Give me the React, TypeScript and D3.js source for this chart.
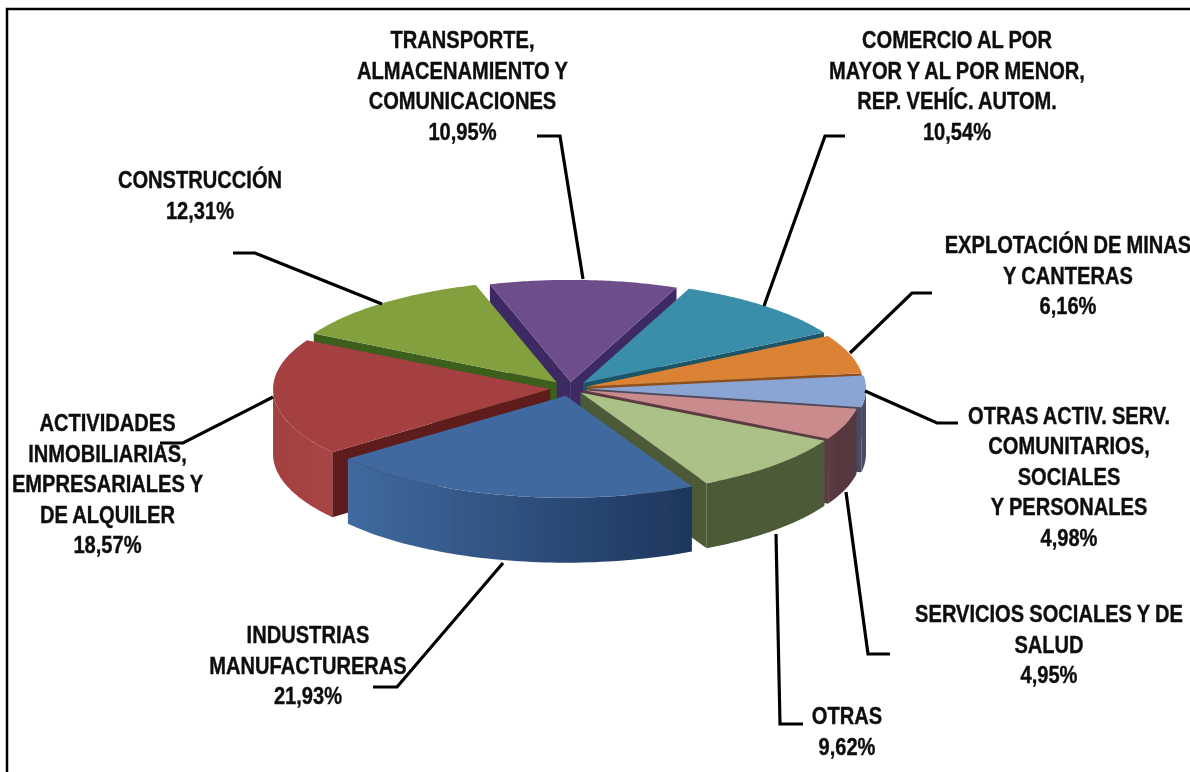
import React from "react";
import * as d3 from "d3";

const sectors = ["TRANSPORTE", "COMERCIO", "EXPLOTACION", "OTRAS_ACTIV", "SERVICIOS", "OTRAS", "INDUSTRIAS", "ACTIVIDADES", "CONSTRUCCION"];
const shares = [10.95, 10.54, 6.16, 4.98, 4.95, 9.62, 21.93, 18.57, 12.31];
const pull = [18, 20, 18, 19, 15, 15, 20, 20, 21];
const topColors = ["#6e4e8b", "#3a8eaa", "#dc8234", "#8aa4d3", "#c98b8b", "#aac187", "#41699f", "#a43f40", "#82a03e"];
const sideColors = ["#3d2a62", "#1d5666", "#8e4f1e", "#4b4a62", "#5c3a40", "#4e5a38", "#1e3a60", "#5f1c1c", "#3e5e1c"];
const rimStart = ["#5a4078", "#2d7286", "#a8622a", "#4b4a62", "#5c3a40", "#4e5a38", "#3f6a9f", "#a34040", "#3e5e1c"];
const rimEnd = ["#5a4078", "#2d7286", "#a8622a", "#4b4d66", "#52373f", "#4e5a38", "#1e365c", "#a84545", "#3e5e1c"];
const paintOrder = [0, 8, 1, 2, 7, 3, 4, 5, 6];

const labelLines = [
  ["TRANSPORTE,", "ALMACENAMIENTO Y", "COMUNICACIONES", "10,95%"],
  ["COMERCIO AL POR", "MAYOR Y AL POR MENOR,", "REP. VEHÍC. AUTOM.", "10,54%"],
  ["EXPLOTACIÓN DE MINAS", "Y CANTERAS", "6,16%"],
  ["OTRAS ACTIV. SERV.", "COMUNITARIOS,", "SOCIALES", "Y PERSONALES", "4,98%"],
  ["SERVICIOS SOCIALES Y DE", "SALUD", "4,95%"],
  ["OTRAS", "9,62%"],
  ["INDUSTRIAS", "MANUFACTURERAS", "21,93%"],
  ["ACTIVIDADES", "INMOBILIARIAS,", "EMPRESARIALES Y", "DE ALQUILER", "18,57%"],
  ["CONSTRUCCIÓN", "12,31%"],
];
const labelX = [462.5, 957, 1068, 1069, 1049, 847, 308, 107.5, 200];
const labelY = [48.5, 48.5, 253.5, 424, 622.5, 724.5, 643.5, 431.5, 188.5];

const leaders: [number, number][][] = [
  [[537, 136], [560, 136], [583, 279]],
  [[845, 136], [825, 136], [764, 306]],
  [[932, 293], [912, 293], [850, 353]],
  [[865, 391], [937, 423], [958, 423]],
  [[846, 492], [868, 654], [890, 654]],
  [[776, 534], [780, 724], [803, 724]],
  [[503, 563], [397, 687], [373, 687]],
  [[273, 397], [183, 443], [160, 443]],
  [[233, 253], [255, 253], [382, 304]],
];

const W = 1190;
const H = 772;
const CX = 570;
const CY = 388.5;
const RX = 277;
const RY = 102;
const DEPTH = 65;
const RAD = Math.PI / 180;
const TEXT_SQUEEZE = 0.855;

const arcs = d3
  .pie<number>()
  .sort(null)
  .startAngle(-17 * RAD)
  .endAngle(343 * RAD)(shares);

const lineGen = d3.line();

function wedge(i: number) {
  const a = arcs[i];
  const mid = (a.startAngle + a.endAngle) / 2;
  const ax = CX + pull[i] * Math.sin(mid);
  const ay = CY - (pull[i] * RY * Math.cos(mid)) / RX;
  const pt = (t: number, d = 0): [number, number] => [ax + RX * Math.sin(t), ay - RY * Math.cos(t) + d];
  const sweep = (t0: number, t1: number, d = 0) =>
    d3.range(0, 61).map((k) => pt(t0 + ((t1 - t0) * k) / 60, d));
  const top = "M" + ax + "," + ay + "L" + sweep(a.startAngle, a.endAngle).map((p) => p.join(",")).join("L") + "Z";
  const radial = (t: number) =>
    lineGen([[ax, ay], pt(t), pt(t, DEPTH), [ax, ay + DEPTH]]) + "Z";
  const walls: string[] = [];
  if (-Math.cos(a.startAngle - Math.PI / 2) > 0) walls.push(radial(a.startAngle));
  if (-Math.cos(a.endAngle + Math.PI / 2) > 0) walls.push(radial(a.endAngle));
  const r0 = Math.max(a.startAngle, Math.PI / 2);
  const r1 = Math.min(a.endAngle, 1.5 * Math.PI);
  let rim: string | null = null;
  if (r1 > r0) {
    const upper = sweep(r0, r1);
    const lower = sweep(r0, r1, DEPTH).reverse();
    rim = lineGen([...upper, ...lower]) + "Z";
  }
  return { top, walls, rim };
}

export default function App() {
  return (
    <svg
      width={W}
      height={H}
      viewBox={`0 0 ${W} ${H}`}
      style={{ position: "absolute", left: 0, top: 0, display: "block", background: "#fff" }}
    >
      <defs>
        {sectors.map((s, i) => (
          <linearGradient key={s} id={`rim-${i}`} x1="0" x2="1" y1="0" y2="0">
            <stop offset="0" stopColor={rimStart[i]} />
            <stop offset="1" stopColor={rimEnd[i]} />
          </linearGradient>
        ))}
        <filter id="soft" x="-5%" y="-5%" width="110%" height="110%">
          <feGaussianBlur stdDeviation="0.7" />
        </filter>
        <filter id="softText" x="-5%" y="-5%" width="110%" height="110%">
          <feGaussianBlur stdDeviation="0.4" />
        </filter>
      </defs>
      <path d={`M7,${H} V9 H${W}`} fill="none" stroke="#000" strokeWidth={2.5} />
      <g filter="url(#soft)">
        {paintOrder.map((i) => {
          const w = wedge(i);
          return (
            <g key={sectors[i]}>
              {w.walls.map((d, k) => (
                <path key={k} d={d} fill={sideColors[i]} />
              ))}
              {w.rim && <path d={w.rim} fill={`url(#rim-${i})`} />}
              <path d={w.top} fill={topColors[i]} />
            </g>
          );
        })}
      </g>
      <g fill="none" stroke="#000" strokeWidth={3.2}>
        {leaders.map((p, i) => (
          <path key={sectors[i]} d={lineGen(p) as string} />
        ))}
      </g>
      <g
        filter="url(#softText)"
        fontFamily="'Liberation Sans', Arial, sans-serif"
        fontWeight={700}
        fontSize={23.5}
        textAnchor="middle"
        fill="#111"
        stroke="#111"
        strokeWidth={0.4}
        wordSpacing={-0.5}
      >
        {labelLines.map((lines, i) => (
          <text key={sectors[i]} transform={`scale(${TEXT_SQUEEZE},1)`}>
            {lines.map((l, k) => (
              <tspan key={k} x={labelX[i] / TEXT_SQUEEZE} y={labelY[i] + k * 30.5}>
                {l}
              </tspan>
            ))}
          </text>
        ))}
      </g>
    </svg>
  );
}
